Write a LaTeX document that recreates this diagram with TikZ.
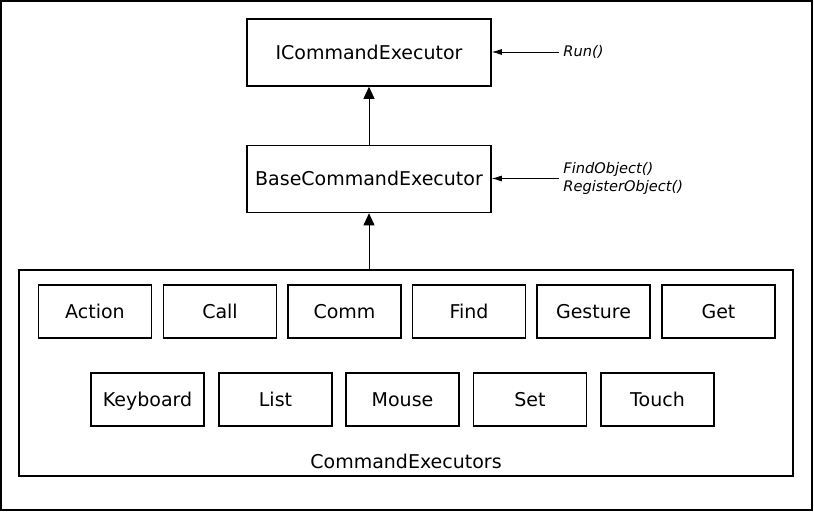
\documentclass[tikz,border=0pt]{standalone}
\usepackage{fontspec}
\setmainfont{DejaVu Sans}
\usetikzlibrary{positioning}
\usetikzlibrary{arrows.meta}
\begin{document}
\begin{tikzpicture}[x=0.5pt,y=-0.5pt]

\tikzset{box/.style={draw, thick, minimum width=56.5pt, minimum height=26.5pt, inner sep=0pt, text height=7pt, text depth=0pt, font=\fontsize{9.5}{11}\selectfont}}
\tikzset{bigbox/.style={draw, thick, minimum width=122pt, minimum height=33.5pt, inner sep=0pt, text height=7pt, text depth=0pt, font=\fontsize{9.5}{11}\selectfont}}
\tikzset{note/.style={anchor=west, inner sep=0pt, align=left, font=\fontsize{7.3}{8.6}\selectfont\itshape}}
\tikzset{inherit/.style={-{Triangle[length=6pt,width=5.5pt]}}}

%frame
\draw[thick] (1,1) rectangle (812,510);
\useasboundingbox (0,0) rectangle (814,512);

%interfaces
\node[bigbox] (iexec) at (369,52.5) {ICommandExecutor};
\node[bigbox] (base) at (369,179) {BaseCommandExecutor};

%container
\draw[thick] (19,270) rectangle (793,476);
\coordinate (group) at (369,270);
\node[font=\fontsize{9.5}{11}\selectfont] (grouplabel) at (406,461) {CommandExecutors};

%executors
\foreach \name/\x in {Action/95, Call/220, Comm/344.5, Find/469, Gesture/593.5, Get/718.5}
  \node[box] (\name) at (\x,311.5) {\name};
\foreach \name/\x in {Keyboard/147.5, List/275.5, Mouse/402.5, Set/530, Touch/657.5}
  \node[box] (\name) at (\x,399.5) {\name};

%inheritance
\draw[inherit] (base) -- (iexec);
\draw[inherit] (group) -- (base);

%methods
\node[note] (run) at (563,52) {Run()};
\node[note] (find) at (563,178.5) {FindObject()\\RegisterObject()};
\draw[-{Latex[length=5pt,width=3pt]}] ([xshift=-2pt]run.west) -- (iexec.east |- run.west);
\draw[-{Latex[length=5pt,width=3pt]}] ([xshift=-2pt]find.west) -- (base.east |- find.west);

\end{tikzpicture}
\end{document}
